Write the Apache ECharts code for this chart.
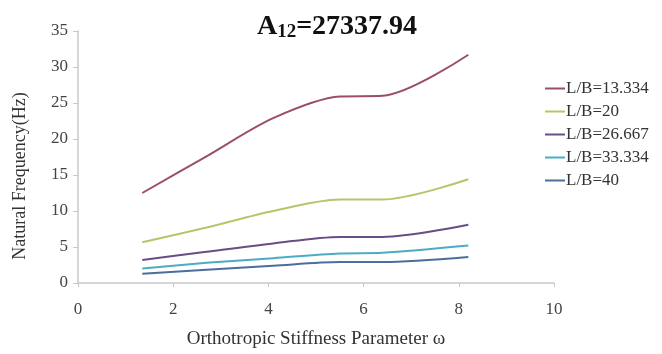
<!DOCTYPE html>
<html><head><meta charset="utf-8">
<script src="https://cdn.jsdelivr.net/npm/echarts@6/dist/echarts.min.js"></script>
<style>html,body{margin:0;padding:0;background:#fff}#c{width:662px;height:354px}</style>
</head><body><div id="c"></div>
<script>
var omega = [1.35, 2.7, 4.1, 5.5, 6.4, 8.2];
var names = ['L/B=13.334', 'L/B=20', 'L/B=26.667', 'L/B=33.334', 'L/B=40'];
var lb13 = [12.5, 17.6, 22.9, 25.9, 26.0, 31.7];
var lb20 = [5.65, 7.7, 10.0, 11.6, 11.6, 14.4];
var lb26 = [3.2, 4.35, 5.5, 6.4, 6.4, 8.1];
var lb33 = [2.0, 2.8, 3.45, 4.1, 4.2, 5.2];
var lb40 = [1.3, 1.85, 2.4, 2.9, 2.9, 3.6];
var colors = ['#9B4F63', '#B8C46A', '#6A4C86', '#4BACC6', '#4A6F9A'];
var allSeries = [lb13, lb20, lb26, lb33, lb40];

var chart = echarts.init(document.getElementById('c'));
var font = 'Liberation Serif';
chart.setOption({
  animation: false,
  color: colors,
  title: {
    text: '{a|A}{s|12}{a|=27337.94}',
    left: 332, top: 6, textAlign: 'center',
    textStyle: {
      rich: {
        a: {fontFamily: font, fontWeight: 'bold', fontSize: 28, color: '#111'},
        s: {fontFamily: font, fontWeight: 'bold', fontSize: 19, color: '#111', verticalAlign: 'bottom', padding: [12, 0, 0, 0]}
      }
    }
  },
  legend: {
    orient: 'vertical', left: 540, top: 75, itemGap: 6, itemWidth: 20, itemHeight: 2,
    icon: 'rect',
    textStyle: {fontFamily: font, fontSize: 17, lineHeight: 17, color: '#333', padding: [0, 0, 0, -4]},
    data: names
  },
  grid: {left: 78, right: 108, top: 31, bottom: 69},
  xAxis: {
    type: 'value', min: 0, max: 10, interval: 2,
    name: 'Orthotropic Stiffness Parameter ω', nameLocation: 'middle', nameGap: 47,
    nameTextStyle: {fontFamily: font, fontSize: 19, color: '#333'},
    axisLine: {lineStyle: {color: '#c8c8c8', width: 1.5}},
    axisTick: {show: true, length: 4, lineStyle: {color: '#c8c8c8'}},
    axisLabel: {fontFamily: font, fontSize: 17, color: '#444', margin: 18},
    splitLine: {show: false}
  },
  yAxis: {
    type: 'value', min: 0, max: 35, interval: 5,
    name: 'Natural Frequency(Hz)', nameLocation: 'middle', nameGap: 49,
    nameTextStyle: {fontFamily: font, fontSize: 18, color: '#333', padding: [0, 38, 0, 0]},
    axisLine: {show: true, lineStyle: {color: '#c8c8c8', width: 1.5}},
    axisTick: {show: true, length: 5, lineStyle: {color: '#c8c8c8'}},
    axisLabel: {fontFamily: font, fontSize: 17, color: '#444', margin: 10},
    splitLine: {show: false}
  },
  series: allSeries.map(function (vals, i) {
    return {
      name: names[i], type: 'line', smooth: 0.3, showSymbol: false,
      lineStyle: {width: 2, color: colors[i]},
      data: omega.map(function (x, j) { return [x, vals[j]]; })
    };
  })
});
</script></body></html>
